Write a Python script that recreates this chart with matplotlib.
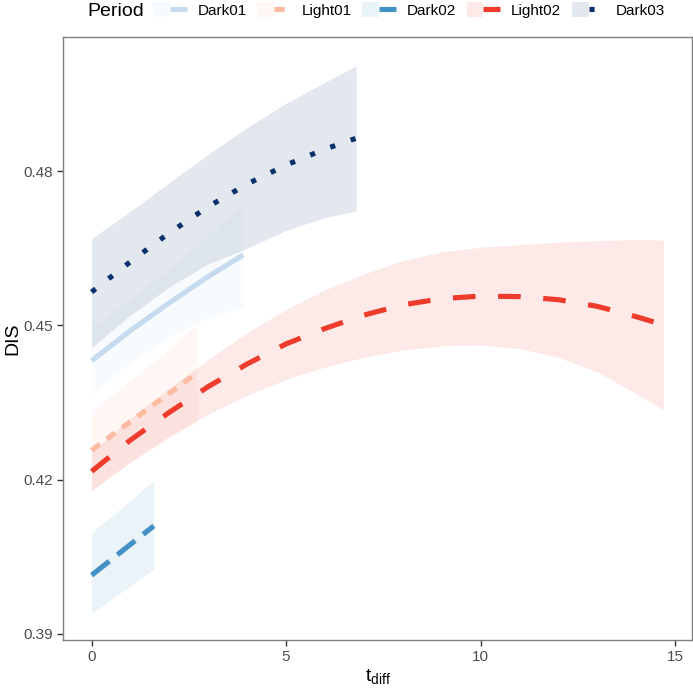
import matplotlib
matplotlib.use("Agg")
import matplotlib.pyplot as plt
from matplotlib.patches import Patch
from matplotlib.lines import Line2D
from matplotlib.legend_handler import HandlerTuple

plt.rcParams['font.family'] = ['Liberation Sans', 'DejaVu Sans']

# ---- data ----
periods = ["Dark01", "Light01", "Dark02", "Light02", "Dark03"]

dark01_x = [0, 1, 2, 3, 3.9]
dark01_fit = [0.4431, 0.4490, 0.4544, 0.4595, 0.4637]
dark01_lo = [0.4366, 0.4428, 0.4478, 0.4515, 0.4536]
dark01_hi = [0.4496, 0.4552, 0.4610, 0.4675, 0.4738]

light01_x = [0, 1, 2, 2.7]
light01_fit = [0.4257, 0.4313, 0.4368, 0.4407]
light01_lo = [0.4180, 0.4233, 0.4281, 0.4312]
light01_hi = [0.4334, 0.4393, 0.4455, 0.4502]

dark02_x = [0, 0.8, 1.6]
dark02_fit = [0.4014, 0.4062, 0.4110]
dark02_lo = [0.3939, 0.3983, 0.4026]
dark02_hi = [0.4097, 0.4147, 0.4198]

light02_x = [0, 1, 2, 3, 4, 5, 6, 7, 8, 9, 10, 11, 12, 13, 14, 14.7]
light02_fit = [0.4216, 0.4277, 0.4331, 0.4381, 0.4425, 0.4464, 0.4494, 0.4520,
               0.4540, 0.4552, 0.4557, 0.4556, 0.4550, 0.4537, 0.4517, 0.4501]
light02_lo = [0.4178, 0.4235, 0.4284, 0.4328, 0.4364, 0.4395, 0.4419, 0.4438,
              0.4452, 0.4460, 0.4462, 0.4455, 0.4438, 0.4409, 0.4367, 0.4336]
light02_hi = [0.4254, 0.4319, 0.4378, 0.4434, 0.4486, 0.4531, 0.4569, 0.4600,
              0.4626, 0.4643, 0.4652, 0.4657, 0.4662, 0.4665, 0.4667, 0.4666]

dark03_x = [0, 1, 2, 3, 4, 5, 6, 6.8]
dark03_fit = [0.4565, 0.4624, 0.4680, 0.4731, 0.4775, 0.4812, 0.4843, 0.4864]
dark03_lo = [0.4457, 0.4520, 0.4575, 0.4620, 0.4650, 0.4685, 0.4710, 0.4722]
dark03_hi = [0.4669, 0.4722, 0.4778, 0.4833, 0.4885, 0.4932, 0.4973, 0.5005]

xticks = [0, 5, 10, 15]
yticks = [0.39, 0.42, 0.45, 0.48]

series = [
    (dark01_x, dark01_fit, dark01_lo, dark01_hi),
    (light01_x, light01_fit, light01_lo, light01_hi),
    (dark02_x, dark02_fit, dark02_lo, dark02_hi),
    (light02_x, light02_fit, light02_lo, light02_hi),
    (dark03_x, dark03_fit, dark03_lo, dark03_hi),
]
colors = ["#c6dbef", "#fcbba1", "#4292c6", "#ef3b2c", "#08306b"]
dashes = [None, (2.0, 1.7), (4.4, 2.0), (4.4, 4.4), (1.0, 3.2)]

# ---- figure ----
W, H = 693, 689
fig = plt.figure(figsize=(W / 100, H / 100), dpi=100)
ax = fig.add_axes([63 / W, (H - 640) / H, (692 - 63) / W, (640 - 37) / H])

lw = 3.7
for (x, f, lo, hi), c in zip(series, colors):
    ax.fill_between(x, lo, hi, color=c, alpha=0.11, linewidth=0)

handles = []
for (x, f, lo, hi), c, d, name in zip(series, colors, dashes, periods):
    ln, = ax.plot(x, f, color=c, lw=lw, solid_capstyle='butt', dash_capstyle='butt',
                  solid_joinstyle='round')
    if d is not None:
        ln.set_dashes(d)
    lh = Line2D([], [], color=c, lw=lw, solid_capstyle='butt', dash_capstyle='butt')
    if d is not None:
        lh.set_dashes(d)
    ph = Patch(facecolor=c, alpha=0.11, edgecolor='none')
    handles.append((ph, lh))

ax.set_xlim(-0.735, 15.435)
ax.set_ylim(0.3888, 0.5061)
ax.set_xticks(xticks)
ax.set_xticklabels([str(t) for t in xticks])
ax.set_yticks(yticks)
ax.set_yticklabels([f"{t:.2f}" for t in yticks])
ax.tick_params(axis='both', which='major', length=4, width=1, color='#333333',
               labelcolor='#4d4d4d', labelsize=11, pad=3)
for s in ax.spines.values():
    s.set_color('#808080')
    s.set_linewidth(1.0)

ax.set_ylabel("DIS", fontsize=14)
ax.yaxis.set_label_coords((21 - 63) / (692 - 63), 0.5)
ax.set_xlabel(r"$\mathregular{t_{diff}}$", fontsize=14, labelpad=2)

fig.text(87 / W, 1 - 11 / H, "Period", fontsize=14, va='center', ha='left')
leg = fig.legend(handles, periods, handler_map={tuple: HandlerTuple(ndivide=None, pad=0)},
                 loc='center left', bbox_to_anchor=(153 / W, 1 - 10 / H), ncol=5,
                 frameon=False, fontsize=11, handlelength=2.2, handleheight=1.1,
                 handletextpad=0.7, columnspacing=0.7, borderpad=0, borderaxespad=0)

fig.savefig("out.png", dpi=100)
